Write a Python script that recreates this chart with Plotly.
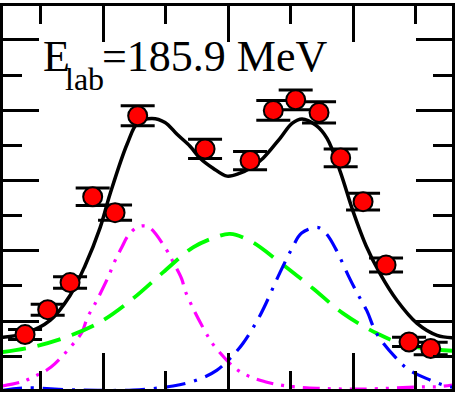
import plotly.graph_objects as go

# experimental points
x_data = [3.74, 5.55, 7.34, 9.15, 10.94, 12.75, 18.14, 21.74, 23.60, 25.39, 27.26, 28.99, 30.78, 32.62, 34.46, 36.19]
y_data = [0.809, 1.163, 1.549, 2.769, 2.543, 3.921, 3.448, 3.284, 3.996, 4.147, 3.968, 3.321, 2.699, 1.799, 0.704, 0.611]
y_err = [0.071, 0.078, 0.082, 0.125, 0.110, 0.141, 0.137, 0.130, 0.141, 0.141, 0.151, 0.127, 0.120, 0.099, 0.066, 0.090]

# total fit (black)
x_total = [1.90, 3.74, 5.74, 7.34, 8.54, 9.74, 10.54, 11.90, 12.78, 13.90, 14.94, 15.90, 16.94, 17.74, 18.78,
           19.90, 20.94, 21.74, 22.78, 24.14, 25.10, 25.90, 27.02, 27.90, 28.94, 29.98, 31.02, 32.14, 33.50,
           35.10, 36.70, 38.06]
y_total = [0.771, 0.827, 1.011, 1.365, 1.789, 2.327, 2.808, 3.515, 3.826, 3.883, 3.826, 3.656, 3.487, 3.317, 3.175,
           3.062, 3.105, 3.175, 3.317, 3.600, 3.812, 3.876, 3.784, 3.600, 3.133, 2.560, 2.072, 1.676, 1.294,
           0.969, 0.799, 0.764]

# broad component (green dashed)
x_green = [1.90, 4.38, 7.07, 9.74, 12.38, 14.78, 17.18, 19.07, 20.14, 21.74, 24.14, 26.78, 29.18, 31.87, 34.27, 36.67, 38.06]
y_green = [0.559, 0.634, 0.775, 0.987, 1.322, 1.694, 2.048, 2.199, 2.242, 2.143, 1.836, 1.464, 1.110, 0.827, 0.658, 0.597, 0.577]

# right peak (blue dash-dot)
x_blue = [1.90, 3.58, 7.90, 12.38, 15.58, 17.50, 19.10, 20.38, 21.18, 22.54, 24.14, 25.07, 25.87, 27.20, 27.87,
          28.67, 29.60, 30.27, 31.07, 31.87, 33.34, 34.40, 36.14, 37.18, 38.06]
y_blue = [0.014, 0.050, 0.021, 0.021, 0.078, 0.163, 0.304, 0.516, 0.686, 1.082, 1.694, 2.025, 2.252, 2.331, 2.238,
          2.001, 1.648, 1.412, 1.153, 0.823, 0.492, 0.314, 0.163, 0.092, 0.057]

# left peak (magenta dash-dot-dot)
x_mag = [1.90, 3.50, 4.70, 5.82, 7.50, 8.30, 8.72, 9.34, 10.30, 10.94, 11.47, 11.98, 12.62, 13.18, 13.74, 15.02,
         15.60, 16.27, 16.54, 17.07, 17.60, 18.40, 18.94, 20.54, 21.74, 22.94, 24.14, 25.18, 27.10, 30.78,
         35.34, 36.78, 37.90]
y_mag = [0.078, 0.139, 0.233, 0.347, 0.658, 0.846, 1.049, 1.248, 1.591, 1.860, 2.048, 2.214, 2.327, 2.355, 2.327,
         2.025, 1.836, 1.601, 1.436, 1.223, 1.035, 0.775, 0.634, 0.332, 0.209, 0.139, 0.092, 0.068, 0.045, 0.035,
         0.064, 0.068, 0.092]

X_RANGE = [1.976, 37.896]
Y_RANGE = [0.0354, 5.481]

fig = go.Figure()

fig.add_trace(go.Scatter(x=x_mag, y=y_mag, mode="lines", line=dict(color="#ff00ff", width=3.2, shape="spline",
                                                                   dash="17px,8px,3px,8px,3px,8px")))
fig.add_trace(go.Scatter(x=x_green, y=y_green, mode="lines", line=dict(color="#00ff00", width=3.8, shape="spline",
                                                                       dash="24px,12px")))
fig.add_trace(go.Scatter(x=x_blue, y=y_blue, mode="lines", line=dict(color="#0000ff", width=3.2, shape="spline",
                                                                     dash="20px,9px,3px,9px")))
fig.add_trace(go.Scatter(x=x_total, y=y_total, mode="lines", line=dict(color="black", width=3.5, shape="spline")))
fig.add_trace(go.Scatter(
    x=x_data, y=y_data, mode="markers",
    marker=dict(color="red", size=19, line=dict(color="black", width=2)),
    error_y=dict(type="data", array=y_err, visible=True, color="black", thickness=3, width=17),
))

axis_common = dict(
    showline=True, linewidth=3, linecolor="black", mirror="allticks",
    ticks="inside", tickwidth=3, tickcolor="black", ticklen=36,
    showticklabels=False, showgrid=False, zeroline=False,
)
fig.update_xaxes(range=X_RANGE, tick0=0, dtick=10,
                 minor=dict(ticks="inside", ticklen=18, tickwidth=3, tickcolor="black", dtick=5, tick0=0, showgrid=False),
                 **axis_common)
fig.update_yaxes(range=Y_RANGE, tick0=0, dtick=1,
                 minor=dict(ticks="inside", ticklen=19, tickwidth=3, tickcolor="black", dtick=0.5, tick0=0, showgrid=False),
                 **axis_common)

serif = "Liberation Serif"
fig.add_annotation(xref="paper", yref="paper", x=(40.5 - 3) / 449, y=(389 - 55) / 385, xanchor="left", yanchor="middle",
                   text="E", showarrow=False, font=dict(family=serif, size=44, color="black"))
fig.add_annotation(xref="paper", yref="paper", x=(62.5 - 3) / 449, y=(389 - 77) / 385, xanchor="left", yanchor="middle",
                   text="lab", showarrow=False, font=dict(family=serif, size=32, color="black"))
fig.add_annotation(xref="paper", yref="paper", x=(100 - 3) / 449, y=(389 - 55) / 385, xanchor="left", yanchor="middle",
                   text="=185.9 MeV", showarrow=False, font=dict(family=serif, size=44, color="black"))

fig.update_layout(
    width=459, height=397,
    margin=dict(l=3, r=7, t=4, b=8),
    paper_bgcolor="white", plot_bgcolor="white",
    showlegend=False,
    hovermode=False,
)

fig.write_html("out.html", config={"displayModeBar": False, "staticPlot": True},
               post_script="document.body.style.margin='0';document.body.style.padding='0';")
